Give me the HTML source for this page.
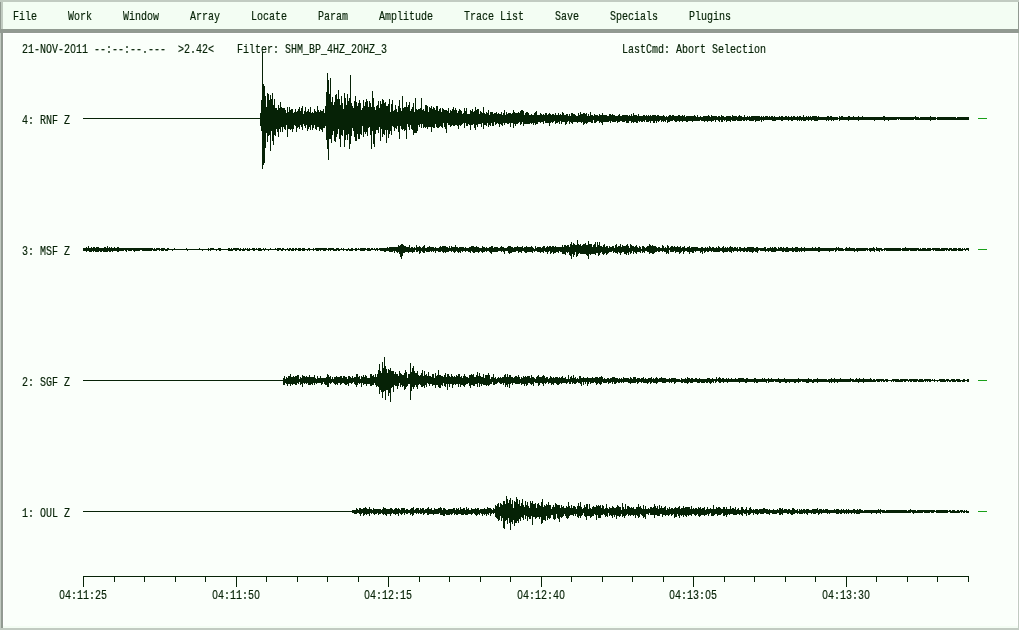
<!DOCTYPE html>
<html lang="en"><head><meta charset="utf-8"><title>SHM</title>
<style>
html,body{margin:0;padding:0;}
body{width:1019px;height:630px;overflow:hidden;background:#fafffa;position:relative;font-family:"Liberation Mono","DejaVu Sans Mono",monospace;}
#menubar{position:absolute;left:0;top:0;width:1019px;height:29px;background:#f3fdf3;box-sizing:border-box;border-top:2px solid #c1cbc1;}
#menubar .l1{position:absolute;left:0;top:0;width:1px;height:27px;background:#919a91;}
#menubar .l2{position:absolute;left:1px;top:0;width:2px;height:27px;background:#c1cbc1;}
#menubar .r1{position:absolute;right:0;top:0;width:1px;height:27px;background:#919a91;}
#sep{position:absolute;left:0;top:29px;width:1019px;height:4px;background:#919a91;}
#draw{position:absolute;left:0;top:33px;width:1019px;height:597px;background:#fafffa;}
#draw .l1{position:absolute;left:0;top:0;width:1px;height:597px;background:#c1cbc1;}
#draw .l2{position:absolute;left:1px;top:0;width:2px;height:595px;background:#919a91;}
#draw .r1{position:absolute;right:0;top:0;width:1px;height:597px;background:#c1cbc1;}
#draw .b1{position:absolute;left:1px;bottom:0;width:1018px;height:2px;background:#c1cbc1;}
#draw .w{position:absolute;left:3px;top:0;width:1015px;height:592px;border:1px solid #fff;border-bottom:none;box-sizing:border-box;}
#draw .g{position:absolute;left:3px;top:593px;width:1015px;height:2px;background:#f3fdf3;}
.z{display:inline-block;width:0.6001em;text-align:center;line-height:0;font-family:"Liberation Sans",sans-serif;}
.t{position:absolute;white-space:pre;font-size:13.6px;line-height:14px;height:14px;color:#062206;-webkit-text-stroke:0.2px #062206;transform:scaleX(0.7352);transform-origin:0 0;}
svg{position:absolute;left:0;top:0;}
</style></head><body>
<div id="menubar"><div class="l1"></div><div class="l2"></div><div class="r1"></div></div>
<div id="sep"></div>
<div id="draw"><div class="l1"></div><div class="l2"></div><div class="r1"></div><div class="b1"></div><div class="w"></div><div class="g"></div></div>
<svg width="1019" height="630" viewBox="0 0 1019 630" shape-rendering="crispEdges" fill="none" stroke="#062206" stroke-width="1">
<g><path d="M83 118.5H260M260.5 113V126M261.5 100V131M262.5 52V169M263.5 84V165M264.5 86V163M265.5 96V148M266.5 107V133M267.5 93V142M268.5 94V136M269.5 100V135M270.5 95V151M271.5 99V131M272.5 93V141M273.5 105V145M274.5 99V135M275.5 108V136M276.5 108V129M277.5 110V132M278.5 105V137M279.5 108V129M280.5 102V132M281.5 107V127M282.5 108V132M283.5 108V127M284.5 108V129M285.5 110V130M286.5 113V125M287.5 107V137M288.5 112V129M289.5 107V129M290.5 110V130M291.5 109V129M292.5 109V132M293.5 113V129M294.5 112V125M295.5 109V126M296.5 112V132M297.5 111V128M298.5 109V127M299.5 107V129M300.5 111V125M301.5 108V127M302.5 106V130M303.5 114V124M304.5 111V126M305.5 107V128M306.5 112V125M307.5 111V131M308.5 109V129M309.5 112V127M310.5 107V130M311.5 113V125M312.5 112V130M313.5 113V128M314.5 109V125M315.5 111V129M316.5 112V130M317.5 106V127M318.5 110V127M319.5 112V131M320.5 110V129M321.5 111V130M322.5 111V132M323.5 109V128M324.5 113V128M325.5 106V126M326.5 92V140M327.5 73V149M328.5 80V160M329.5 94V139M330.5 78V139M331.5 102V143M332.5 97V135M333.5 105V131M334.5 102V141M335.5 95V142M336.5 94V137M337.5 99V134M338.5 90V129M339.5 99V139M340.5 105V147M341.5 96V135M342.5 103V136M343.5 109V130M344.5 93V147M345.5 98V140M346.5 105V135M347.5 94V140M348.5 101V134M349.5 98V149M350.5 75V144M351.5 103V136M352.5 106V128M353.5 108V131M354.5 101V137M355.5 96V141M356.5 102V141M357.5 106V134M358.5 103V139M359.5 100V139M360.5 103V134M361.5 110V135M362.5 108V126M363.5 100V137M364.5 106V132M365.5 102V134M366.5 99V132M367.5 101V136M368.5 107V128M369.5 101V127M370.5 103V135M371.5 107V149M372.5 91V131M373.5 98V144M374.5 107V147M375.5 110V134M376.5 106V130M377.5 105V130M378.5 101V133M379.5 108V127M380.5 101V141M381.5 104V129M382.5 99V137M383.5 100V134M384.5 103V135M385.5 102V130M386.5 106V143M387.5 106V130M388.5 104V138M389.5 99V134M390.5 112V131M391.5 104V135M392.5 100V126M393.5 111V127M394.5 110V131M395.5 105V128M396.5 109V129M397.5 112V126M398.5 106V132M399.5 100V139M400.5 108V126M401.5 111V129M402.5 96V130M403.5 108V129M404.5 107V131M405.5 107V130M406.5 102V139M407.5 107V124M408.5 105V127M409.5 102V130M410.5 111V125M411.5 109V129M412.5 107V130M413.5 103V135M414.5 112V133M415.5 98V133M416.5 109V133M417.5 110V131M418.5 109V125M419.5 109V127M420.5 108V124M421.5 98V128M422.5 110V124M423.5 109V128M424.5 111V127M425.5 105V128M426.5 105V127M427.5 106V129M428.5 112V127M429.5 107V127M430.5 108V127M431.5 106V132M432.5 109V127M433.5 107V128M434.5 108V128M435.5 110V124M436.5 106V127M437.5 106V128M438.5 111V128M439.5 109V127M440.5 108V126M441.5 112V127M442.5 108V128M443.5 109V123M444.5 110V127M445.5 110V129M446.5 110V133M447.5 111V123M448.5 108V125M449.5 113V125M450.5 110V127M451.5 111V126M452.5 109V125M453.5 107V126M454.5 110V126M455.5 108V125M456.5 110V125M457.5 113V126M458.5 111V129M459.5 109V125M460.5 110V126M461.5 111V125M462.5 114V124M463.5 113V123M464.5 108V128M465.5 111V123M466.5 108V126M467.5 114V126M468.5 114V124M469.5 114V125M470.5 110V130M471.5 111V125M472.5 109V125M473.5 112V124M474.5 111V128M475.5 107V130M476.5 110V125M477.5 109V127M478.5 109V124M479.5 114V124M480.5 111V124M481.5 112V127M482.5 113V123M483.5 107V129M484.5 113V125M485.5 114V125M486.5 112V126M487.5 113V123M488.5 110V127M489.5 115V125M490.5 112V126M491.5 112V123M492.5 112V126M493.5 114V126M494.5 113V122M495.5 113V125M496.5 112V124M497.5 114V123M498.5 113V124M499.5 114V127M500.5 114V124M501.5 112V125M502.5 115V126M503.5 113V123M504.5 110V125M505.5 115V123M506.5 112V123M507.5 114V124M508.5 113V124M509.5 113V123M510.5 113V127M511.5 114V123M512.5 113V123M513.5 110V128M514.5 112V124M515.5 113V126M516.5 113V124M517.5 113V124M518.5 112V123M519.5 113V122M520.5 111V125M521.5 110V124M522.5 110V122M523.5 111V126M524.5 115V124M525.5 113V124M526.5 112V124M527.5 112V124M528.5 113V124M529.5 115V124M530.5 115V123M531.5 114V124M532.5 115V123M533.5 115V125M534.5 113V123M535.5 112V125M536.5 111V124M537.5 115V124M538.5 115V122M539.5 115V122M540.5 113V123M541.5 114V122M542.5 115V122M543.5 114V124M544.5 115V121M545.5 113V123M546.5 113V123M547.5 115V123M548.5 114V123M549.5 113V126M550.5 114V123M551.5 115V122M552.5 114V123M553.5 114V122M554.5 115V121M555.5 113V124M556.5 115V123M557.5 115V123M558.5 113V122M559.5 115V124M560.5 114V121M561.5 115V124M562.5 112V122M563.5 113V122M564.5 115V122M565.5 115V125M566.5 114V124M567.5 114V122M568.5 116V121M569.5 114V124M570.5 116V122M571.5 113V123M572.5 113V124M573.5 114V122M574.5 114V122M575.5 115V122M576.5 116V122M577.5 116V123M578.5 113V122M579.5 115V122M580.5 112V122M581.5 114V123M582.5 114V122M583.5 113V125M584.5 113V124M585.5 114V123M586.5 113V124M587.5 116V123M588.5 114V122M589.5 116V122M590.5 112V122M591.5 115V123M592.5 115V123M593.5 116V120M594.5 114V123M595.5 115V123M596.5 115V122M597.5 115V121M598.5 116V121M599.5 114V123M600.5 115V122M601.5 115V123M602.5 113V125M603.5 115V122M604.5 115V122M605.5 115V122M606.5 115V122M607.5 116V122M608.5 116V122M609.5 114V121M610.5 114V123M611.5 115V121M612.5 114V122M613.5 115V122M614.5 115V122M615.5 116V122M616.5 116V121M617.5 116V123M618.5 115V122M619.5 114V122M620.5 116V121M621.5 116V121M622.5 115V122M623.5 115V122M624.5 115V122M625.5 115V121M626.5 115V123M627.5 115V123M628.5 116V123M629.5 115V121M630.5 116V121M631.5 114V123M632.5 116V122M633.5 113V123M634.5 115V122M635.5 115V122M636.5 115V123M637.5 116V123M638.5 114V121M639.5 116V122M640.5 116V121M641.5 116V122M642.5 116V122M643.5 115V121M644.5 115V122M645.5 116V120M646.5 115V122M647.5 116V122M648.5 115V122M649.5 116V121M650.5 115V123M651.5 116V121M652.5 115V121M653.5 115V123M654.5 115V123M655.5 115V121M656.5 116V123M657.5 115V121M658.5 115V122M659.5 116V121M660.5 116V120M661.5 116V122M662.5 116V121M663.5 115V122M664.5 116V121M665.5 117V122M666.5 116V120M667.5 117V123M668.5 116V122M669.5 115V122M670.5 115V121M671.5 116V121M672.5 115V121M673.5 115V120M674.5 116V121M675.5 116V122M676.5 116V122M677.5 116V121M678.5 115V121M679.5 115V122M680.5 116V121M681.5 116V121M682.5 115V122M683.5 116V121M684.5 115V121M685.5 117V121M686.5 116V122M687.5 116V122M688.5 116V121M689.5 116V121M690.5 116V121M691.5 116V121M692.5 116V122M693.5 116V121M694.5 115V121M695.5 116V121M696.5 117V121M697.5 115V121M698.5 117V121M699.5 117V121M700.5 116V120M701.5 117V121M702.5 117V121M703.5 116V121M704.5 116V122M705.5 116V121M706.5 116V121M707.5 116V122M708.5 115V121M709.5 116V121M710.5 117V121M711.5 115V122M712.5 116V121M713.5 116V121M714.5 116V120M715.5 116V122M716.5 116V120M717.5 117V120M718.5 116V121M719.5 116V122M720.5 117V120M721.5 115V122M722.5 116V122M723.5 116V120M724.5 117V121M725.5 117V120M726.5 116V122M727.5 116V121M728.5 116V121M729.5 116V121M730.5 116V122M731.5 117V120M732.5 115V121M733.5 116V121M734.5 116V121M735.5 116V121M736.5 116V120M737.5 117V121M738.5 116V121M739.5 115V121M740.5 116V121M741.5 116V121M742.5 117V120M743.5 117V121M744.5 115V121M745.5 117V120M746.5 117V121M747.5 116V120M748.5 117V120M749.5 116V121M750.5 117V121M751.5 116V121M752.5 116V121M753.5 116V121M754.5 116V120M755.5 116V122M756.5 116V121M757.5 116V121M758.5 116V121M759.5 116V121M760.5 117V120M761.5 116V122M762.5 117V120M763.5 116V121M764.5 117V120M765.5 116V120M766.5 116V120M767.5 116V120M768.5 117V120M769.5 116V120M770.5 117V120M771.5 116V120M772.5 116V121M773.5 117V121M774.5 116V121M775.5 117V121M776.5 117V120M777.5 117V120M778.5 117V120M779.5 116V120M780.5 117V120M781.5 116V121M782.5 116V121M783.5 117V120M784.5 117V120M785.5 116V120M786.5 116V120M787.5 117V120M788.5 116V121M789.5 117V120M790.5 117V120M791.5 116V121M792.5 117V121M793.5 116V120M794.5 116V120M795.5 117V120M796.5 117V120M797.5 116V121M798.5 117V120M799.5 116V121M800.5 116V120M801.5 117V121M802.5 117V120M803.5 115V121M804.5 117V121M805.5 117V121M806.5 116V120M807.5 117V120M808.5 116V121M809.5 117V120M810.5 116V120M811.5 117V121M812.5 116V120M813.5 116V120M814.5 116V121M815.5 116V121M816.5 116V121M817.5 117V121M818.5 116V120M819.5 117V120M820.5 117V120M821.5 117V120M822.5 117V120M823.5 117V120M824.5 117V120M825.5 117V120M826.5 117V121M827.5 116V120M828.5 116V121M829.5 117V120M830.5 116V120M831.5 116V121M832.5 117V120M833.5 117V121M834.5 117V120M835.5 117V120M836.5 117V120M837.5 117V120M838 118.5H839M839.5 116V121M840.5 117V120M841.5 116V120M842.5 116V120M843.5 117V120M844.5 117V120M845.5 117V120M846.5 117V120M847.5 117V120M848.5 116V121M849.5 116V120M850.5 117V120M851.5 117V120M852.5 117V120M853.5 116V120M854.5 117V120M855.5 117V120M856.5 117V120M857.5 117V120M858.5 116V121M859.5 117V120M860.5 117V120M861.5 117V120M862.5 116V120M863.5 117V120M864.5 117V120M865.5 117V120M866.5 117V120M867.5 117V120M868.5 117V120M869.5 117V120M870.5 117V120M871.5 117V120M872.5 117V120M873.5 117V120M874.5 117V121M875.5 117V120M876.5 117V120M877.5 117V120M878.5 117V120M879.5 117V120M880.5 117V120M881.5 117V120M882.5 117V120M883.5 116V120M884.5 116V121M885.5 117V120M886.5 117V120M887.5 117V120M888.5 117V121M889.5 117V120M890.5 117V120M891.5 117V120M892.5 117V120M893.5 117V120M894.5 117V120M895.5 117V120M896.5 117V120M897.5 117V119M898.5 117V120M899.5 117V119M900.5 117V120M901.5 117V120M902.5 117V120M903.5 117V120M904.5 117V120M905.5 117V120M906.5 117V120M907.5 117V120M908.5 117V120M909.5 117V120M910.5 117V120M911.5 117V120M912.5 117V120M913.5 117V120M914.5 117V119M915.5 116V120M916.5 117V120M917.5 117V120M918.5 117V120M919.5 118V120M920.5 117V120M921.5 117V120M922.5 117V120M923.5 117V120M924.5 117V120M925.5 117V120M926.5 117V120M927.5 117V120M928.5 117V120M929.5 117V120M930.5 116V121M931.5 117V120M932.5 117V120M933.5 117V120M934.5 117V120M935.5 117V120M936 118.5H937M937.5 117V120M938.5 117V120M939.5 117V120M940.5 117V120M941.5 117V120M942.5 117V120M943.5 117V120M944.5 117V120M945.5 117V120M946.5 117V120M947.5 117V120M948.5 117V120M949.5 117V120M950.5 117V120M951.5 117V120M952.5 117V120M953.5 117V120M954.5 117V120M955.5 117V120M956.5 118V120M957.5 117V120M958.5 117V120M959.5 117V120M960.5 117V120M961.5 117V120M962.5 117V120M963.5 117V120M964.5 117V120M965.5 117V120M966.5 117V120M967.5 117V120M968.5 117V120"/><path d="M83.5 248V251M84.5 248V251M85.5 248V251M86.5 247V252M87.5 248V251M88.5 246V251M89.5 248V252M90.5 248V252M91.5 247V252M92.5 248V251M93.5 247V252M94.5 247V251M95.5 248V252M96.5 247V252M97.5 247V252M98.5 247V252M99.5 248V251M100.5 248V252M101.5 248V252M102.5 248V251M103.5 248V252M104.5 247V252M105.5 247V252M106.5 248V252M107.5 246V252M108.5 248V251M109.5 247V252M110.5 248V252M111.5 247V251M112.5 248V252M113.5 248V251M114.5 247V251M115.5 248V251M116.5 248V251M117.5 247V252M118.5 247V252M119.5 248V251M120.5 248V251M121.5 248V251M122.5 248V251M123.5 248V251M124.5 248V250M125.5 248V251M126.5 248V252M127.5 248V250M128.5 248V251M129.5 248V251M130.5 248V251M131.5 248V251M132.5 248V250M133.5 248V251M134.5 248V252M135.5 248V251M136.5 248V251M137.5 248V251M138.5 248V251M139.5 248V251M140.5 248V250M141.5 248V250M142.5 248V251M143.5 248V251M144.5 248V251M145.5 248V251M146.5 248V251M147.5 248V251M148.5 248V251M149.5 248V251M150.5 248V251M151.5 248V251M152.5 248V250M153.5 249V251M154.5 248V251M155.5 249V251M156.5 248V251M157.5 248V250M158.5 248V250M159.5 248V251M160 249.5H161M161.5 248V251M162.5 248V251M163.5 248V251M164.5 248V250M165.5 249V251M166.5 249V251M167.5 248V251M168.5 248V250M169 249.5H172M172.5 249V251M173 249.5H174M174.5 248V250M175 249.5H186M186.5 248V250M187.5 249V251M188 249.5H199M199.5 248V250M200 249.5H202M202.5 249V251M203 249.5H208M208.5 248V251M209 249.5H210M210.5 248V251M211.5 248V250M212.5 248V250M213.5 248V250M214 249.5H216M216.5 249V251M217 249.5H218M218.5 248V250M219.5 248V251M220.5 248V251M221 249.5H228M228.5 248V251M229.5 248V251M230.5 249V251M231.5 248V251M232.5 249V251M233.5 248V250M234.5 248V250M235.5 248V251M236.5 248V251M237.5 248V250M238.5 248V250M239.5 249V251M240.5 248V251M241 249.5H242M242.5 249V251M243.5 248V251M244.5 249V251M245.5 248V250M246 249.5H247M247.5 248V251M248.5 249V251M249.5 248V251M250 249.5H252M252.5 248V250M253.5 248V251M254.5 248V251M255 249.5H256M256.5 248V250M257 249.5H258M258.5 248V251M259.5 248V251M260.5 248V251M261.5 249V251M262 249.5H263M263.5 248V250M264.5 249V251M265.5 248V250M266 249.5H268M268.5 249V251M269 249.5H270M270.5 248V250M271 249.5H275M275.5 248V250M276 249.5H277M277.5 248V251M278.5 248V251M279.5 248V250M280.5 248V250M281.5 249V251M282.5 248V251M283.5 248V250M284 249.5H285M285.5 249V251M286 249.5H287M287.5 248V250M288.5 249V251M289.5 248V251M290.5 248V250M291.5 249V251M292.5 248V251M293.5 248V251M294 249.5H295M295.5 248V251M296.5 248V250M297 249.5H298M298.5 248V251M299.5 248V251M300.5 248V251M301 249.5H302M302.5 248V251M303.5 248V251M304.5 248V251M305 249.5H307M307.5 249V251M308.5 248V250M309.5 248V251M310 249.5H313M313.5 248V251M314 249.5H315M315.5 248V250M316.5 248V251M317.5 248V251M318.5 248V251M319.5 248V250M320.5 248V251M321.5 248V250M322.5 248V250M323.5 248V251M324.5 248V251M325.5 248V251M326.5 248V250M327 249.5H328M328.5 248V251M329.5 248V250M330.5 248V251M331.5 248V250M332.5 248V250M333.5 248V251M334.5 249V251M335.5 249V251M336.5 248V251M337.5 248V250M338.5 248V251M339.5 249V251M340 249.5H341M341.5 248V250M342 249.5H343M343.5 248V251M344 249.5H346M346.5 249V251M347.5 249V251M348.5 248V250M349.5 249V251M350.5 249V251M351.5 248V251M352.5 248V251M353 249.5H355M355.5 248V251M356.5 248V251M357 249.5H358M358.5 248V250M359 249.5H360M360.5 248V251M361.5 248V251M362.5 248V251M363.5 248V251M364.5 248V251M365.5 248V250M366 249.5H367M367.5 248V251M368.5 248V251M369.5 248V251M370.5 249V251M371.5 248V250M372.5 248V250M373 249.5H374M374.5 248V250M375.5 249V251M376.5 248V250M377.5 248V251M378 249.5H379M379.5 248V250M380.5 248V251M381.5 248V251M382.5 248V251M383.5 248V251M384.5 248V252M385.5 248V252M386.5 248V251M387.5 247V251M388.5 248V251M389.5 247V252M390.5 247V252M391.5 247V252M392.5 247V252M393.5 247V251M394.5 247V253M395.5 247V251M396.5 247V252M397.5 247V253M398.5 245V252M399.5 246V254M400.5 245V257M401.5 244V259M402.5 244V256M403.5 245V253M404.5 246V253M405.5 246V252M406.5 247V252M407.5 247V252M408.5 247V253M409.5 245V252M410.5 248V252M411.5 247V252M412.5 247V253M413.5 248V252M414.5 247V252M415.5 248V250M416.5 245V252M417.5 247V252M418.5 247V251M419.5 246V254M420.5 247V253M421.5 248V251M422.5 247V252M423.5 246V253M424.5 245V253M425.5 248V251M426.5 248V252M427.5 247V252M428.5 247V252M429.5 246V252M430.5 247V251M431.5 247V252M432.5 247V251M433.5 247V252M434.5 248V251M435.5 247V253M436.5 248V251M437.5 248V251M438.5 248V252M439.5 247V252M440.5 246V252M441.5 247V251M442.5 246V252M443.5 246V253M444.5 246V252M445.5 246V253M446.5 247V252M447.5 247V252M448.5 248V252M449.5 246V251M450.5 248V251M451.5 246V252M452.5 247V251M453.5 247V252M454.5 247V253M455.5 245V252M456.5 247V251M457.5 247V252M458.5 248V253M459.5 247V252M460.5 247V253M461.5 247V251M462.5 247V252M463.5 247V251M464.5 248V251M465.5 247V252M466.5 248V251M467.5 248V251M468.5 248V252M469.5 247V252M470.5 247V253M471.5 246V251M472.5 246V252M473.5 246V253M474.5 247V253M475.5 247V252M476.5 246V252M477.5 247V252M478.5 247V253M479.5 248V252M480.5 248V251M481.5 248V252M482.5 246V253M483.5 247V252M484.5 247V252M485.5 248V251M486.5 247V252M487.5 248V251M488.5 248V251M489.5 247V252M490.5 247V253M491.5 246V254M492.5 246V252M493.5 248V252M494.5 247V252M495.5 247V252M496.5 247V252M497.5 247V252M498.5 248V251M499.5 248V251M500.5 247V251M501.5 246V252M502.5 247V251M503.5 247V252M504.5 248V254M505.5 248V251M506.5 248V251M507.5 247V251M508.5 246V253M509.5 246V254M510.5 246V253M511.5 247V253M512.5 247V252M513.5 248V252M514.5 247V252M515.5 247V252M516.5 247V251M517.5 246V251M518.5 247V253M519.5 247V252M520.5 247V252M521.5 247V253M522.5 246V251M523.5 248V251M524.5 247V252M525.5 247V253M526.5 246V253M527.5 247V252M528.5 247V252M529.5 247V252M530.5 247V252M531.5 246V252M532.5 247V253M533.5 248V251M534.5 249V252M535.5 246V251M536.5 248V251M537.5 247V252M538.5 247V252M539.5 247V252M540.5 247V253M541.5 248V252M542.5 247V252M543.5 246V253M544.5 246V251M545.5 248V252M546.5 247V252M547.5 246V254M548.5 247V252M549.5 246V251M550.5 246V254M551.5 247V253M552.5 246V252M553.5 246V254M554.5 247V253M555.5 246V253M556.5 247V252M557.5 247V252M558.5 247V253M559.5 247V251M560.5 247V252M561.5 247V252M562.5 245V254M563.5 247V254M564.5 245V254M565.5 245V255M566.5 246V252M567.5 245V253M568.5 245V252M569.5 247V255M570.5 244V256M571.5 242V259M572.5 245V254M573.5 243V257M574.5 244V255M575.5 245V252M576.5 245V257M577.5 240V256M578.5 244V254M579.5 245V253M580.5 244V254M581.5 246V254M582.5 245V254M583.5 244V254M584.5 244V254M585.5 243V254M586.5 245V255M587.5 245V256M588.5 241V259M589.5 244V254M590.5 244V255M591.5 244V254M592.5 247V254M593.5 245V254M594.5 244V254M595.5 242V255M596.5 247V253M597.5 242V253M598.5 245V256M599.5 242V255M600.5 246V253M601.5 246V252M602.5 247V254M603.5 245V255M604.5 244V254M605.5 247V253M606.5 246V255M607.5 246V254M608.5 248V253M609.5 246V252M610.5 247V252M611.5 247V252M612.5 246V251M613.5 246V253M614.5 248V252M615.5 245V253M616.5 244V253M617.5 247V254M618.5 246V252M619.5 246V253M620.5 244V255M621.5 247V253M622.5 245V252M623.5 246V252M624.5 246V254M625.5 246V254M626.5 245V255M627.5 244V253M628.5 246V255M629.5 248V252M630.5 244V254M631.5 245V253M632.5 246V251M633.5 246V254M634.5 247V252M635.5 246V253M636.5 245V254M637.5 247V252M638.5 248V252M639.5 246V252M640.5 247V253M641.5 249V251M642.5 246V253M643.5 246V252M644.5 247V253M645.5 248V251M646.5 247V251M647.5 246V252M648.5 246V252M649.5 244V254M650.5 245V253M651.5 246V253M652.5 245V254M653.5 246V254M654.5 246V253M655.5 246V252M656.5 247V252M657.5 248V251M658.5 247V252M659.5 247V252M660.5 248V251M661.5 248V251M662.5 245V252M663.5 246V251M664.5 248V252M665.5 247V252M666.5 248V254M667.5 245V253M668.5 246V254M669.5 248V250M670.5 247V252M671.5 246V252M672.5 246V252M673.5 247V252M674.5 246V251M675.5 247V253M676.5 247V252M677.5 246V252M678.5 247V252M679.5 247V254M680.5 246V253M681.5 248V252M682.5 247V251M683.5 247V254M684.5 246V252M685.5 248V251M686.5 248V251M687.5 247V252M688.5 247V252M689.5 246V254M690.5 248V252M691.5 247V252M692.5 247V253M693.5 247V253M694.5 247V251M695.5 247V252M696.5 247V251M697.5 247V251M698.5 248V251M699.5 248V251M700.5 248V253M701.5 247V252M702.5 247V254M703.5 248V251M704.5 248V253M705.5 247V252M706.5 248V251M707.5 247V252M708.5 248V252M709.5 246V251M710.5 247V251M711.5 248V252M712.5 247V251M713.5 247V252M714.5 248V252M715.5 248V252M716.5 247V252M717.5 248V252M718.5 246V252M719.5 247V252M720.5 248V251M721.5 248V251M722.5 247V252M723.5 246V253M724.5 248V252M725.5 247V252M726.5 248V252M727.5 247V252M728.5 248V251M729.5 247V252M730.5 246V252M731.5 247V253M732.5 247V251M733.5 248V252M734.5 247V251M735.5 247V251M736.5 248V251M737.5 247V252M738.5 249V251M739.5 247V251M740.5 247V252M741.5 248V251M742.5 248V251M743.5 248V252M744.5 247V252M745.5 248V251M746.5 248V252M747.5 247V252M748.5 247V251M749.5 247V252M750.5 247V252M751.5 247V252M752.5 247V253M753.5 247V252M754.5 248V251M755.5 248V252M756.5 247V252M757.5 247V253M758.5 248V251M759.5 248V250M760.5 248V251M761.5 248V251M762.5 248V251M763.5 248V251M764.5 247V251M765.5 247V252M766.5 249V251M767.5 248V251M768.5 248V252M769.5 248V251M770.5 247V251M771.5 248V252M772.5 247V252M773.5 248V252M774.5 247V252M775.5 247V252M776.5 248V251M777.5 249V251M778.5 247V251M779.5 248V251M780.5 247V251M781.5 247V251M782.5 248V252M783.5 247V252M784.5 248V251M785.5 248V252M786.5 247V252M787.5 247V252M788.5 248V252M789.5 248V251M790.5 248V251M791.5 248V251M792.5 247V252M793.5 248V252M794.5 248V251M795.5 247V252M796.5 247V252M797.5 247V252M798.5 248V251M799.5 248V252M800.5 248V251M801.5 247V252M802.5 248V251M803.5 248V251M804.5 247V252M805.5 248V251M806.5 248V251M807.5 248V251M808.5 248V251M809.5 248V251M810.5 248V251M811.5 248V251M812.5 247V251M813.5 248V251M814.5 248V251M815.5 247V251M816.5 248V251M817.5 248V251M818.5 247V252M819.5 247V252M820.5 248V251M821.5 248V251M822.5 248V251M823.5 248V251M824.5 248V251M825.5 248V251M826.5 248V251M827.5 248V251M828.5 248V251M829.5 248V252M830.5 248V251M831.5 248V251M832.5 248V251M833.5 248V251M834.5 248V250M835.5 248V252M836.5 247V251M837.5 248V250M838.5 247V251M839.5 248V251M840.5 248V251M841.5 248V251M842.5 248V251M843.5 249V251M844 249.5H845M845.5 248V251M846.5 247V251M847.5 248V251M848.5 248V251M849.5 247V251M850.5 248V251M851.5 248V251M852.5 248V251M853.5 248V251M854.5 248V252M855.5 249V251M856.5 248V251M857.5 248V252M858.5 248V251M859.5 248V251M860.5 248V251M861.5 248V251M862.5 248V251M863.5 248V251M864.5 248V251M865.5 248V251M866.5 248V250M867.5 248V251M868 249.5H869M869.5 248V251M870.5 248V252M871.5 248V251M872.5 248V251M873.5 247V251M874.5 248V252M875 249.5H876M876.5 247V251M877.5 248V251M878.5 248V251M879.5 248V252M880.5 248V250M881.5 248V251M882.5 249V251M883 249.5H884M884.5 248V251M885.5 248V250M886.5 248V251M887.5 248V251M888.5 248V251M889.5 248V251M890.5 248V251M891.5 248V251M892.5 248V251M893.5 248V251M894.5 248V251M895.5 248V251M896.5 248V251M897.5 248V251M898.5 248V251M899.5 248V251M900.5 248V251M901 249.5H902M902.5 248V251M903.5 248V251M904.5 248V251M905.5 247V251M906.5 248V251M907.5 248V251M908.5 248V251M909.5 248V250M910.5 248V251M911.5 248V251M912.5 248V251M913.5 248V251M914.5 248V251M915.5 248V251M916.5 248V251M917.5 248V250M918.5 248V251M919.5 249V251M920.5 248V251M921.5 249V251M922.5 248V251M923.5 248V251M924.5 248V251M925.5 248V251M926.5 249V251M927.5 248V251M928.5 248V251M929.5 248V251M930.5 248V251M931 249.5H932M932.5 248V250M933.5 248V251M934.5 248V250M935.5 248V251M936.5 248V251M937.5 248V251M938.5 248V251M939.5 248V251M940.5 249V251M941.5 248V251M942.5 248V251M943.5 248V251M944.5 248V251M945.5 248V250M946.5 248V251M947.5 248V250M948.5 249V251M949.5 248V251M950.5 248V250M951.5 248V251M952.5 249V251M953.5 248V251M954.5 248V251M955.5 248V251M956.5 248V251M957 249.5H958M958.5 248V251M959.5 248V251M960.5 248V251M961.5 249V251M962.5 248V251M963 249.5H964M964.5 248V250M965.5 249V251M966.5 248V250M967.5 248V250M968.5 248V251"/><path d="M83 380.5H283M283.5 378V385M284.5 376V385M285.5 379V383M286.5 377V384M287.5 378V386M288.5 376V384M289.5 376V384M290.5 374V386M291.5 377V384M292.5 377V385M293.5 376V384M294.5 377V384M295.5 376V385M296.5 376V385M297.5 375V383M298.5 375V384M299.5 379V382M300.5 377V385M301.5 378V384M302.5 375V387M303.5 376V383M304.5 376V384M305.5 377V383M306.5 376V384M307.5 377V383M308.5 377V385M309.5 375V385M310.5 377V385M311.5 377V384M312.5 377V385M313.5 377V383M314.5 375V385M315.5 378V383M316.5 379V384M317.5 376V383M318.5 378V383M319.5 378V383M320.5 376V383M321.5 378V385M322.5 378V384M323.5 378V382M324.5 378V384M325.5 378V385M326.5 377V385M327.5 374V387M328.5 375V387M329.5 377V383M330.5 376V384M331.5 379V383M332.5 377V382M333.5 379V383M334.5 377V384M335.5 377V385M336.5 376V384M337.5 377V385M338.5 377V383M339.5 377V383M340.5 376V385M341.5 376V384M342.5 378V383M343.5 376V383M344.5 376V384M345.5 377V385M346.5 377V385M347.5 379V384M348.5 376V386M349.5 376V383M350.5 377V383M351.5 378V384M352.5 376V383M353.5 378V382M354.5 377V384M355.5 377V385M356.5 374V387M357.5 374V385M358.5 377V383M359.5 376V384M360.5 379V383M361.5 376V387M362.5 377V383M363.5 375V385M364.5 377V384M365.5 375V384M366.5 376V386M367.5 378V384M368.5 378V384M369.5 378V384M370.5 374V386M371.5 374V386M372.5 376V385M373.5 375V385M374.5 377V383M375.5 374V385M376.5 377V387M377.5 374V386M378.5 370V387M379.5 364V394M380.5 371V390M381.5 373V392M382.5 362V398M383.5 368V392M384.5 357V391M385.5 366V400M386.5 369V390M387.5 373V390M388.5 369V396M389.5 370V393M390.5 368V402M391.5 371V388M392.5 371V387M393.5 371V392M394.5 374V385M395.5 372V386M396.5 374V386M397.5 374V389M398.5 376V386M399.5 371V383M400.5 373V387M401.5 374V385M402.5 375V387M403.5 375V386M404.5 373V390M405.5 370V389M406.5 372V387M407.5 378V386M408.5 374V384M409.5 374V384M410.5 363V400M411.5 372V391M412.5 368V387M413.5 366V389M414.5 371V387M415.5 373V385M416.5 373V387M417.5 371V389M418.5 375V385M419.5 376V384M420.5 375V385M421.5 373V387M422.5 370V387M423.5 376V386M424.5 371V388M425.5 375V385M426.5 374V387M427.5 376V383M428.5 372V384M429.5 376V386M430.5 376V384M431.5 377V384M432.5 374V386M433.5 374V385M434.5 378V385M435.5 373V388M436.5 376V385M437.5 375V385M438.5 370V387M439.5 375V388M440.5 375V388M441.5 376V385M442.5 376V386M443.5 377V383M444.5 375V386M445.5 373V387M446.5 377V384M447.5 374V390M448.5 374V384M449.5 376V387M450.5 377V384M451.5 374V384M452.5 376V388M453.5 377V385M454.5 376V384M455.5 377V385M456.5 375V384M457.5 376V384M458.5 374V387M459.5 374V384M460.5 377V387M461.5 376V385M462.5 378V385M463.5 376V386M464.5 374V387M465.5 376V385M466.5 377V384M467.5 377V384M468.5 378V383M469.5 375V386M470.5 375V388M471.5 374V385M472.5 375V385M473.5 374V386M474.5 377V386M475.5 377V384M476.5 375V384M477.5 372V387M478.5 376V383M479.5 373V387M480.5 376V384M481.5 377V386M482.5 377V384M483.5 374V385M484.5 378V385M485.5 375V385M486.5 375V386M487.5 375V385M488.5 373V386M489.5 375V385M490.5 379V384M491.5 377V384M492.5 377V382M493.5 374V385M494.5 378V385M495.5 377V384M496.5 379V384M497.5 378V383M498.5 377V382M499.5 378V383M500.5 377V384M501.5 378V384M502.5 377V383M503.5 377V385M504.5 375V383M505.5 374V387M506.5 377V385M507.5 374V387M508.5 377V384M509.5 375V388M510.5 375V384M511.5 377V383M512.5 377V385M513.5 378V383M514.5 377V383M515.5 376V384M516.5 376V384M517.5 377V384M518.5 375V384M519.5 377V384M520.5 379V383M521.5 377V385M522.5 378V384M523.5 376V384M524.5 377V386M525.5 376V384M526.5 377V386M527.5 376V385M528.5 376V383M529.5 376V383M530.5 378V384M531.5 375V385M532.5 377V384M533.5 377V386M534.5 378V382M535.5 379V383M536.5 377V383M537.5 376V383M538.5 375V386M539.5 377V385M540.5 377V383M541.5 377V383M542.5 376V384M543.5 375V386M544.5 376V383M545.5 378V384M546.5 377V383M547.5 377V382M548.5 379V384M549.5 378V383M550.5 376V383M551.5 377V385M552.5 378V384M553.5 377V385M554.5 378V383M555.5 377V383M556.5 377V384M557.5 377V385M558.5 378V385M559.5 377V384M560.5 378V383M561.5 377V384M562.5 376V383M563.5 378V383M564.5 378V383M565.5 377V383M566.5 379V384M567.5 379V383M568.5 375V382M569.5 379V384M570.5 377V384M571.5 376V382M572.5 378V384M573.5 375V383M574.5 378V384M575.5 377V384M576.5 379V383M577.5 378V382M578.5 379V383M579.5 376V383M580.5 376V384M581.5 378V386M582.5 378V382M583.5 377V385M584.5 378V382M585.5 378V384M586.5 378V382M587.5 377V386M588.5 378V384M589.5 378V382M590.5 378V384M591.5 378V383M592.5 377V383M593.5 378V383M594.5 378V382M595.5 377V383M596.5 377V385M597.5 377V384M598.5 378V383M599.5 377V384M600.5 377V385M601.5 376V384M602.5 377V382M603.5 379V383M604.5 378V383M605.5 379V383M606.5 379V383M607.5 378V382M608.5 378V384M609.5 379V383M610.5 378V383M611.5 378V382M612.5 377V384M613.5 377V382M614.5 377V384M615.5 378V384M616.5 378V383M617.5 378V382M618.5 379V383M619.5 378V383M620.5 379V382M621.5 378V383M622.5 379V382M623.5 377V383M624.5 378V382M625.5 378V382M626.5 378V382M627.5 378V382M628.5 378V383M629.5 379V383M630.5 377V384M631.5 378V383M632.5 379V383M633.5 377V383M634.5 377V383M635.5 377V383M636.5 379V382M637.5 378V384M638.5 378V383M639.5 378V382M640.5 379V382M641.5 378V383M642.5 378V382M643.5 377V383M644.5 379V383M645.5 378V383M646.5 379V383M647.5 379V384M648.5 378V383M649.5 378V382M650.5 378V384M651.5 377V383M652.5 379V382M653.5 378V383M654.5 379V383M655.5 378V383M656.5 377V384M657.5 378V383M658.5 379V382M659.5 378V382M660.5 378V382M661.5 377V382M662.5 378V383M663.5 378V383M664.5 378V383M665.5 378V383M666.5 379V382M667.5 379V382M668.5 379V382M669.5 378V383M670.5 379V382M671.5 378V383M672.5 378V382M673.5 378V382M674.5 378V384M675.5 378V383M676.5 379V382M677.5 379V382M678.5 379V382M679.5 379V382M680.5 380V382M681.5 378V383M682.5 379V383M683.5 379V382M684.5 379V383M685.5 378V383M686.5 379V383M687.5 377V384M688.5 378V383M689.5 378V382M690.5 379V383M691.5 378V383M692.5 378V383M693.5 379V382M694.5 379V382M695.5 378V382M696.5 378V382M697.5 379V383M698.5 379V383M699.5 378V383M700.5 379V382M701.5 379V383M702.5 379V383M703.5 379V383M704.5 379V383M705.5 379V382M706.5 379V383M707.5 378V383M708.5 378V382M709.5 378V383M710.5 379V384M711.5 379V383M712.5 378V382M713.5 379V383M714.5 379V381M715.5 379V383M716.5 377V382M717.5 379V381M718.5 378V382M719.5 377V383M720.5 378V383M721.5 379V382M722.5 378V382M723.5 378V383M724.5 379V382M725.5 379V382M726.5 378V382M727.5 379V383M728.5 378V382M729.5 379V382M730.5 379V382M731.5 378V382M732.5 379V382M733.5 379V382M734.5 379V382M735.5 378V382M736.5 379V382M737.5 379V382M738.5 378V382M739.5 378V383M740.5 378V382M741.5 378V382M742.5 378V382M743.5 378V382M744.5 379V382M745.5 379V383M746.5 378V383M747.5 378V382M748.5 379V382M749.5 379V382M750.5 379V382M751.5 379V382M752.5 379V382M753.5 379V382M754.5 378V383M755.5 378V382M756.5 379V383M757.5 379V383M758.5 379V382M759.5 379V382M760.5 379V382M761.5 379V382M762.5 378V382M763.5 379V382M764.5 378V382M765.5 379V382M766.5 379V383M767.5 379V381M768.5 378V383M769.5 379V382M770.5 379V382M771.5 378V382M772.5 379V382M773.5 379V382M774.5 379V381M775.5 379V382M776.5 379V382M777.5 379V382M778.5 378V382M779.5 379V383M780.5 379V383M781.5 379V382M782.5 379V382M783.5 379V382M784.5 378V382M785.5 379V383M786.5 379V383M787.5 379V382M788.5 379V382M789.5 379V383M790.5 379V382M791.5 379V382M792.5 379V382M793.5 379V382M794.5 379V383M795.5 379V383M796.5 379V382M797.5 379V382M798.5 378V383M799.5 379V382M800.5 379V382M801.5 379V381M802.5 379V382M803.5 379V382M804.5 379V382M805.5 379V382M806.5 379V383M807.5 379V383M808.5 378V383M809.5 379V382M810.5 379V382M811.5 379V382M812.5 380V383M813.5 379V383M814.5 379V382M815.5 379V382M816.5 379V382M817.5 378V383M818.5 379V382M819.5 379V382M820.5 379V382M821.5 379V382M822.5 379V382M823.5 379V382M824.5 379V382M825.5 379V382M826.5 379V382M827.5 380V382M828.5 379V382M829.5 379V383M830.5 379V382M831.5 378V383M832.5 379V382M833.5 379V382M834.5 378V383M835.5 379V382M836.5 379V382M837.5 379V383M838.5 379V382M839.5 379V382M840.5 378V382M841.5 379V382M842.5 379V382M843.5 379V382M844.5 379V382M845.5 379V382M846.5 379V382M847.5 379V382M848.5 379V382M849.5 379V382M850.5 378V382M851.5 379V381M852.5 379V382M853.5 379V382M854.5 380V382M855.5 379V382M856.5 378V382M857.5 379V382M858.5 379V383M859.5 378V382M860.5 379V382M861.5 379V382M862.5 379V382M863.5 378V383M864.5 379V382M865.5 379V382M866.5 379V382M867.5 379V382M868.5 379V382M869.5 379V382M870.5 378V382M871.5 379V382M872.5 380V382M873.5 379V382M874.5 379V382M875.5 380V382M876.5 379V381M877.5 379V382M878.5 379V382M879.5 379V382M880.5 379V381M881.5 379V382M882.5 379V381M883.5 379V382M884.5 380V382M885.5 379V381M886.5 379V382M887.5 379V382M888 380.5H891M891.5 380V382M892.5 379V381M893.5 379V382M894.5 379V381M895.5 379V382M896.5 379V382M897.5 379V382M898.5 379V382M899.5 380V382M900.5 379V382M901.5 379V382M902.5 379V382M903.5 379V381M904.5 379V382M905.5 379V382M906.5 379V381M907.5 379V381M908.5 380V382M909.5 379V381M910.5 379V382M911.5 379V382M912.5 379V381M913.5 379V382M914.5 379V382M915.5 379V382M916.5 379V382M917.5 379V381M918.5 380V382M919.5 379V382M920.5 379V382M921.5 379V382M922.5 379V382M923.5 380V382M924.5 379V381M925.5 379V382M926.5 379V381M927.5 379V382M928.5 379V381M929.5 379V382M930.5 379V382M931 380.5H932M932.5 379V381M933 380.5H934M934.5 379V382M935 380.5H937M937.5 380V382M938 380.5H939M939.5 379V381M940.5 379V382M941.5 379V382M942.5 379V382M943.5 379V382M944.5 379V382M945.5 380V382M946.5 379V381M947.5 379V382M948.5 379V381M949.5 380V382M950.5 380V382M951.5 379V381M952.5 379V382M953.5 379V382M954.5 379V382M955.5 380V382M956.5 379V381M957.5 379V382M958.5 379V382M959.5 379V382M960.5 380V382M961 380.5H962M962.5 380V382M963.5 379V382M964.5 379V382M965 380.5H967M967.5 379V382M968.5 379V382"/><path d="M83 511.5H352M352.5 510V513M353.5 510V513M354.5 510V514M355.5 510V514M356.5 508V514M357.5 509V513M358.5 510V513M359.5 508V514M360.5 508V516M361.5 509V514M362.5 509V513M363.5 508V516M364.5 508V515M365.5 507V514M366.5 508V515M367.5 509V514M368.5 509V514M369.5 507V516M370.5 509V513M371.5 509V514M372.5 510V513M373.5 508V514M374.5 509V515M375.5 509V514M376.5 509V514M377.5 509V513M378.5 509V515M379.5 509V514M380.5 509V514M381.5 510V513M382.5 509V514M383.5 507V515M384.5 508V514M385.5 508V515M386.5 509V516M387.5 509V514M388.5 509V514M389.5 509V514M390.5 508V516M391.5 508V514M392.5 509V513M393.5 510V514M394.5 509V514M395.5 508V515M396.5 508V514M397.5 509V514M398.5 508V516M399.5 509V513M400.5 510V514M401.5 508V515M402.5 508V514M403.5 508V513M404.5 508V515M405.5 510V513M406.5 509V514M407.5 509V514M408.5 510V513M409.5 510V513M410.5 509V515M411.5 508V514M412.5 508V516M413.5 507V515M414.5 510V513M415.5 509V513M416.5 508V514M417.5 508V513M418.5 508V514M419.5 510V513M420.5 508V514M421.5 509V514M422.5 508V513M423.5 508V515M424.5 510V514M425.5 509V513M426.5 509V513M427.5 508V515M428.5 507V515M429.5 509V514M430.5 509V514M431.5 508V514M432.5 510V514M433.5 510V515M434.5 508V514M435.5 509V514M436.5 509V514M437.5 509V514M438.5 508V514M439.5 508V513M440.5 507V515M441.5 508V515M442.5 510V515M443.5 508V516M444.5 508V516M445.5 509V514M446.5 510V515M447.5 510V515M448.5 509V515M449.5 509V515M450.5 509V514M451.5 509V515M452.5 509V514M453.5 508V513M454.5 508V515M455.5 510V514M456.5 508V515M457.5 509V515M458.5 508V514M459.5 510V514M460.5 507V514M461.5 509V515M462.5 509V515M463.5 508V515M464.5 508V514M465.5 510V515M466.5 507V515M467.5 509V515M468.5 508V514M469.5 510V514M470.5 510V514M471.5 508V515M472.5 509V514M473.5 509V513M474.5 509V514M475.5 508V515M476.5 509V516M477.5 508V515M478.5 508V514M479.5 510V515M480.5 509V513M481.5 509V514M482.5 509V516M483.5 509V514M484.5 508V515M485.5 509V514M486.5 509V516M487.5 507V514M488.5 508V515M489.5 508V513M490.5 508V516M491.5 509V514M492.5 510V513M493.5 508V514M494.5 509V513M495.5 505V517M496.5 506V518M497.5 504V519M498.5 503V521M499.5 507V520M500.5 503V516M501.5 504V521M502.5 505V518M503.5 501V528M504.5 501V529M505.5 504V521M506.5 496V520M507.5 499V524M508.5 503V518M509.5 500V523M510.5 498V530M511.5 504V522M512.5 500V524M513.5 508V520M514.5 501V526M515.5 502V523M516.5 497V523M517.5 499V521M518.5 504V523M519.5 500V519M520.5 506V521M521.5 503V517M522.5 499V518M523.5 505V520M524.5 507V515M525.5 501V519M526.5 505V516M527.5 502V521M528.5 506V517M529.5 508V519M530.5 501V519M531.5 503V516M532.5 501V525M533.5 504V517M534.5 504V517M535.5 503V519M536.5 508V518M537.5 504V517M538.5 503V517M539.5 505V519M540.5 506V517M541.5 502V524M542.5 499V523M543.5 507V520M544.5 505V520M545.5 506V521M546.5 504V516M547.5 505V520M548.5 502V518M549.5 505V519M550.5 505V518M551.5 509V515M552.5 507V515M553.5 505V519M554.5 507V520M555.5 503V519M556.5 504V514M557.5 505V518M558.5 505V519M559.5 505V522M560.5 508V517M561.5 505V518M562.5 507V517M563.5 506V516M564.5 508V514M565.5 508V516M566.5 506V518M567.5 507V519M568.5 502V518M569.5 506V516M570.5 508V515M571.5 505V515M572.5 508V515M573.5 506V516M574.5 506V514M575.5 507V516M576.5 509V514M577.5 506V517M578.5 503V518M579.5 506V516M580.5 502V518M581.5 507V516M582.5 509V515M583.5 508V513M584.5 505V516M585.5 507V517M586.5 504V520M587.5 504V516M588.5 509V516M589.5 504V516M590.5 508V518M591.5 509V517M592.5 507V516M593.5 506V516M594.5 507V514M595.5 507V515M596.5 505V520M597.5 506V515M598.5 505V518M599.5 506V518M600.5 505V518M601.5 508V515M602.5 505V515M603.5 506V514M604.5 509V515M605.5 508V517M606.5 504V516M607.5 508V517M608.5 509V513M609.5 507V516M610.5 508V515M611.5 508V516M612.5 506V518M613.5 507V515M614.5 508V517M615.5 508V515M616.5 507V519M617.5 505V516M618.5 506V516M619.5 507V517M620.5 507V516M621.5 510V514M622.5 503V517M623.5 507V516M624.5 509V518M625.5 504V516M626.5 509V515M627.5 506V514M628.5 506V516M629.5 507V515M630.5 508V516M631.5 507V515M632.5 508V515M633.5 507V516M634.5 509V515M635.5 509V518M636.5 507V515M637.5 507V516M638.5 504V518M639.5 507V517M640.5 506V514M641.5 508V515M642.5 509V516M643.5 505V518M644.5 509V517M645.5 506V519M646.5 509V514M647.5 509V514M648.5 508V515M649.5 509V513M650.5 507V515M651.5 507V515M652.5 508V515M653.5 507V515M654.5 504V518M655.5 506V515M656.5 508V515M657.5 506V516M658.5 509V516M659.5 505V516M660.5 508V514M661.5 506V514M662.5 508V517M663.5 508V515M664.5 507V515M665.5 506V516M666.5 510V515M667.5 508V515M668.5 509V516M669.5 507V515M670.5 509V514M671.5 508V516M672.5 508V515M673.5 509V514M674.5 508V518M675.5 507V517M676.5 508V517M677.5 508V514M678.5 507V516M679.5 506V518M680.5 509V515M681.5 508V516M682.5 508V515M683.5 506V517M684.5 508V515M685.5 507V516M686.5 507V517M687.5 507V515M688.5 507V516M689.5 507V515M690.5 509V515M691.5 506V516M692.5 509V514M693.5 508V514M694.5 509V515M695.5 508V516M696.5 508V515M697.5 509V514M698.5 507V516M699.5 508V517M700.5 507V516M701.5 509V515M702.5 508V515M703.5 508V515M704.5 507V516M705.5 510V515M706.5 509V515M707.5 507V514M708.5 509V516M709.5 509V514M710.5 508V513M711.5 509V516M712.5 509V516M713.5 505V516M714.5 509V515M715.5 509V514M716.5 507V514M717.5 508V516M718.5 507V515M719.5 507V515M720.5 508V515M721.5 509V514M722.5 509V513M723.5 507V516M724.5 507V516M725.5 509V515M726.5 507V517M727.5 509V515M728.5 509V514M729.5 509V515M730.5 506V514M731.5 509V514M732.5 508V514M733.5 508V515M734.5 509V515M735.5 507V515M736.5 510V515M737.5 509V514M738.5 508V514M739.5 510V515M740.5 510V514M741.5 507V515M742.5 507V516M743.5 509V513M744.5 510V514M745.5 509V514M746.5 507V516M747.5 510V513M748.5 510V515M749.5 508V515M750.5 507V514M751.5 509V513M752.5 510V513M753.5 509V515M754.5 510V513M755.5 509V514M756.5 509V514M757.5 509V515M758.5 510V514M759.5 509V513M760.5 509V514M761.5 509V514M762.5 509V514M763.5 508V514M764.5 508V513M765.5 509V513M766.5 509V514M767.5 509V514M768.5 510V514M769.5 509V515M770.5 510V513M771.5 510V513M772.5 510V514M773.5 509V514M774.5 510V514M775.5 510V514M776.5 510V514M777.5 509V513M778.5 510V513M779.5 508V515M780.5 508V515M781.5 509V514M782.5 508V515M783.5 510V513M784.5 509V513M785.5 509V513M786.5 509V513M787.5 510V514M788.5 509V514M789.5 509V513M790.5 510V514M791.5 510V515M792.5 508V515M793.5 508V514M794.5 509V514M795.5 510V513M796.5 510V513M797.5 509V514M798.5 511V513M799.5 509V514M800.5 510V514M801.5 509V514M802.5 510V514M803.5 509V513M804.5 509V514M805.5 510V513M806.5 509V514M807.5 509V515M808.5 509V513M809.5 510V513M810.5 510V513M811.5 510V514M812.5 509V513M813.5 509V514M814.5 509V514M815.5 509V514M816.5 509V513M817.5 508V513M818.5 510V515M819.5 509V514M820.5 509V513M821.5 509V514M822.5 510V513M823.5 509V513M824.5 510V513M825.5 509V513M826.5 509V513M827.5 509V514M828.5 510V513M829.5 510V514M830.5 510V513M831.5 510V513M832.5 510V513M833.5 510V513M834.5 509V513M835.5 510V513M836.5 509V514M837.5 509V514M838.5 509V514M839.5 510V513M840.5 510V514M841.5 509V514M842.5 510V513M843.5 509V513M844.5 510V514M845.5 510V513M846.5 509V514M847.5 510V513M848.5 509V514M849.5 510V513M850.5 510V513M851.5 510V514M852.5 510V513M853.5 509V513M854.5 509V514M855.5 510V513M856.5 510V514M857.5 509V514M858.5 510V514M859.5 509V514M860.5 509V513M861.5 510V513M862.5 510V513M863.5 511V513M864.5 510V513M865.5 510V513M866.5 510V513M867.5 510V513M868.5 510V513M869.5 510V513M870.5 510V513M871.5 510V514M872.5 510V513M873.5 510V513M874.5 510V513M875.5 510V513M876.5 510V514M877.5 510V513M878.5 509V513M879.5 510V513M880.5 509V514M881.5 510V512M882.5 510V513M883.5 510V513M884.5 510V513M885.5 511V513M886.5 510V513M887.5 510V513M888.5 510V513M889.5 510V513M890.5 510V513M891.5 510V513M892.5 510V513M893.5 510V513M894.5 510V513M895.5 510V513M896.5 510V513M897.5 510V513M898.5 510V513M899.5 510V513M900.5 510V513M901.5 510V513M902.5 510V513M903.5 510V513M904.5 510V513M905.5 510V513M906.5 510V513M907.5 511V513M908.5 510V513M909.5 510V513M910.5 509V513M911.5 510V512M912.5 510V513M913.5 510V514M914.5 510V513M915.5 510V513M916.5 511V513M917.5 510V513M918.5 510V513M919.5 510V513M920.5 510V513M921.5 510V513M922.5 510V513M923.5 510V512M924.5 510V513M925.5 510V513M926.5 510V513M927.5 510V513M928.5 510V513M929.5 510V513M930.5 510V512M931.5 510V513M932.5 510V513M933.5 510V513M934.5 510V512M935 511.5H936M936.5 510V513M937.5 510V513M938.5 510V513M939.5 510V513M940.5 510V513M941.5 510V513M942.5 510V513M943.5 510V513M944.5 510V513M945.5 510V513M946.5 510V513M947.5 510V513M948 511.5H949M949.5 510V512M950.5 510V513M951.5 511V513M952.5 510V513M953.5 510V513M954.5 510V513M955.5 511V513M956.5 511V513M957.5 510V513M958.5 510V513M959.5 511V513M960.5 510V512M961.5 510V513M962.5 510V512M963.5 511V513M964.5 510V513M965 511.5H966M966.5 510V513M967.5 511V513M968.5 511V513"/></g>
<path d="M83 576.5H969M83.5 576V587M114.5 576V582M144.5 576V582M175.5 576V582M205.5 576V582M236.5 576V587M266.5 576V582M297.5 576V582M327.5 576V582M358.5 576V582M388.5 576V587M419.5 576V582M449.5 576V582M480.5 576V582M510.5 576V582M541.5 576V587M571.5 576V582M602.5 576V582M632.5 576V582M663.5 576V582M693.5 576V587M724.5 576V582M754.5 576V582M785.5 576V582M815.5 576V582M846.5 576V587M876.5 576V582M907.5 576V582M937.5 576V582M968.5 576V582"/>
<path d="M978 118.5H987M978 249.5H987M978 380.5H987M978 511.5H987" stroke="#18a018"/>
</svg>
<div id="texts"><span class="t" style="left:13px;top:10px">File</span><span class="t" style="left:68px;top:10px">Work</span><span class="t" style="left:123px;top:10px">Window</span><span class="t" style="left:190px;top:10px">Array</span><span class="t" style="left:251px;top:10px">Locate</span><span class="t" style="left:318px;top:10px">Param</span><span class="t" style="left:379px;top:10px">Amplitude</span><span class="t" style="left:464px;top:10px">Trace List</span><span class="t" style="left:555px;top:10px">Save</span><span class="t" style="left:610px;top:10px">Specials</span><span class="t" style="left:689px;top:10px">Plugins</span><span class="t" style="left:22px;top:43px">21-NOV-2<span class="z">0</span>11 --:--:--.---</span><span class="t" style="left:178px;top:43px">&gt;2.42&lt;</span><span class="t" style="left:237px;top:43px">Filter: SHM_BP_4HZ_2<span class="z">0</span>HZ_3</span><span class="t" style="left:622px;top:43px">LastCmd: Abort Selection</span><span class="t" style="left:22px;top:114px">4: RNF Z</span><span class="t" style="left:22px;top:245px">3: MSF Z</span><span class="t" style="left:22px;top:376px">2: SGF Z</span><span class="t" style="left:22px;top:507px">1: OUL Z</span><span class="t" style="left:59px;top:589px"><span class="z">0</span>4:11:25</span><span class="t" style="left:212px;top:589px"><span class="z">0</span>4:11:5<span class="z">0</span></span><span class="t" style="left:364px;top:589px"><span class="z">0</span>4:12:15</span><span class="t" style="left:517px;top:589px"><span class="z">0</span>4:12:4<span class="z">0</span></span><span class="t" style="left:669px;top:589px"><span class="z">0</span>4:13:<span class="z">0</span>5</span><span class="t" style="left:822px;top:589px"><span class="z">0</span>4:13:3<span class="z">0</span></span></div>
</body></html>
